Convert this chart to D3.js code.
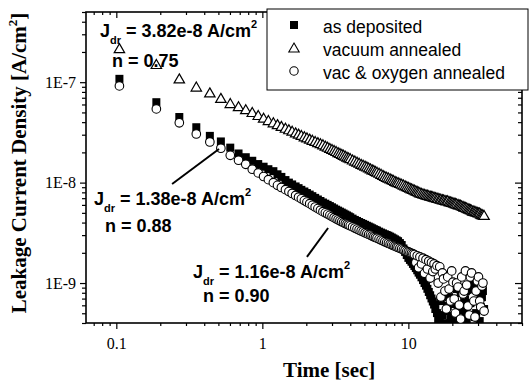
<!DOCTYPE html>
<meta charset="utf-8">
<script src="https://cdnjs.cloudflare.com/ajax/libs/d3/7.8.5/d3.min.js"></script>
<style>
  body { margin: 0; background: #fff; }
  .tick text { font-family: "Liberation Serif", "Times New Roman", serif; font-size: 16px; fill: #000; }
  .ann { font-family: "Liberation Sans", Arial, sans-serif; font-weight: bold; font-size: 18px; }
</style>
<svg width="529" height="385"></svg>

<script>
// sample times [sec], shared by the three series
var time = [0.105,0.188,0.27,0.353,0.437,0.52,0.603,0.687,0.77,0.853,0.937,1.02,1.1,1.19,1.27,1.35,1.44,1.52,1.6,1.69,1.77,1.85,1.94,2.02,
  2.2,2.4,2.6,2.8,3.0,3.2,3.4,3.6,3.8,4.0,4.3,4.6,4.9,5.2,5.5,5.8,6.1,6.5,6.9,7.3,7.7,8.1,8.5,9.0,9.5,
  10,10.5,11,11.5,12,12.6,13.2,13.8,14.4,15,15.7,16.4,17.1,17.8,18.6,19.4,20.2,21,21.9,22.8,23.7,24.6,25.6,26.6,27.6,28.6,29.7,30.8,31.9,33.0];

var asDeposited = [1.08e-7,6.32e-8,4.50e-8,3.56e-8,2.92e-8,2.57e-8,2.23e-8,1.95e-8,1.79e-8,1.65e-8,1.53e-8,1.44e-8,1.36e-8,1.30e-8,1.21e-8,1.14e-8,1.06e-8,1.00e-8,9.59e-9,9.16e-9,8.81e-9,8.47e-9,8.16e-9,7.87e-9,
  7.33e-9,6.79e-9,6.34e-9,6.00e-9,5.68e-9,5.38e-9,5.14e-9,4.92e-9,4.71e-9,4.52e-9,
  4.25e-9,4.05e-9,3.88e-9,3.72e-9,3.58e-9,3.44e-9,3.33e-9,
  3.18e-9,3.06e-9,2.96e-9,2.84e-9,2.72e-9,2.61e-9,2.39e-9,2.04e-9,
  1.78e-9,1.63e-9,1.48e-9,1.34e-9,1.21e-9,1.07e-9,9.42e-10,8.15e-10,7.02e-10,
  6.11e-10,5.02e-10,4.18e-10,4.80e-10,3.64e-10,5.90e-10,4.38e-10,6.77e-10,3.99e-10,5.38e-10,7.94e-10,3.32e-10,5.02e-10,9.12e-10,6.31e-10,1.07e-9,4.58e-10,8.51e-10,4.18e-10,7.24e-10,5.51e-10];

var vacuumAnnealed = [2.16e-7,1.50e-7,1.08e-7,8.95e-8,7.83e-8,6.90e-8,6.13e-8,5.70e-8,5.32e-8,4.99e-8,4.66e-8,4.38e-8,4.15e-8,3.94e-8,3.78e-8,3.63e-8,3.48e-8,3.36e-8,3.25e-8,3.13e-8,3.04e-8,2.95e-8,2.86e-8,2.79e-8,
  2.64e-8,2.50e-8,2.38e-8,2.25e-8,2.14e-8,2.04e-8,1.95e-8,1.87e-8,1.79e-8,1.73e-8,
  1.64e-8,1.56e-8,1.49e-8,1.43e-8,1.37e-8,1.32e-8,1.27e-8,
  1.21e-8,1.15e-8,1.11e-8,1.07e-8,1.03e-8,9.99e-9,9.63e-9,9.29e-9,
  8.97e-9,8.67e-9,8.41e-9,8.16e-9,7.92e-9,7.71e-9,7.55e-9,7.41e-9,7.28e-9,
  7.16e-9,7.02e-9,6.89e-9,6.76e-9,6.65e-9,6.60e-9,6.41e-9,6.30e-9,6.19e-9,6.05e-9,5.95e-9,5.78e-9,5.65e-9,5.51e-9,5.38e-9,5.20e-9,5.15e-9,5.04e-9,4.98e-9,4.81e-9,4.71e-9];

var vacOxygen = [9.18e-8,5.42e-8,3.94e-8,3.05e-8,2.54e-8,2.20e-8,1.87e-8,1.67e-8,1.52e-8,1.36e-8,1.25e-8,1.15e-8,1.07e-8,9.99e-9,9.39e-9,8.95e-9,8.51e-9,8.15e-9,7.80e-9,7.45e-9,7.16e-9,6.89e-9,6.62e-9,6.40e-9,
  5.94e-9,5.51e-9,5.14e-9,4.86e-9,4.59e-9,4.37e-9,4.17e-9,3.99e-9,3.85e-9,3.71e-9,
  3.53e-9,3.37e-9,3.24e-9,3.11e-9,3.00e-9,2.89e-9,2.80e-9,
  2.68e-9,2.58e-9,2.49e-9,2.40e-9,2.33e-9,2.26e-9,2.18e-9,2.11e-9,
  2.04e-9,1.98e-9,1.92e-9,1.87e-9,1.82e-9,1.77e-9,1.71e-9,1.65e-9,1.60e-9,
  1.55e-9,1.49e-9,1.45e-9,1.26e-9,8.32e-10,1.15e-9,6.61e-10,1.02e-9,5.02e-10,9.12e-10,4.38e-10,7.76e-10,1.32e-9,5.90e-10,1.15e-9,7.24e-10,4.58e-10,1.05e-9,6.61e-10,9.33e-10,5.26e-10];

// in-between samples where the markers pile up (2 s < t < 15 s)
var midTime = [2.11,2.3,2.5,2.7,2.9,3.1,3.3,3.5,3.7,3.9,4.15,4.45,4.75,5.05,5.35,5.65,5.95,
  6.3,6.7,7.1,7.5,7.9,8.3,8.75,9.25,9.75,10.25,10.75,11.25,11.75,12.3,12.9,13.5,14.1,14.7];
var midDeposited = [7.60e-9,7.05e-9,6.56e-9,6.17e-9,5.84e-9,5.53e-9,5.26e-9,5.03e-9,4.81e-9,4.61e-9,4.38e-9,4.15e-9,3.96e-9,3.80e-9,3.65e-9,3.51e-9,3.38e-9,
  3.25e-9,3.12e-9,3.01e-9,2.90e-9,2.78e-9,2.66e-9,2.50e-9,2.21e-9,1.90e-9,1.70e-9,1.55e-9,1.41e-9,1.27e-9,1.14e-9,1.00e-9,8.76e-10,7.56e-10,6.55e-10];
var midVacuum = [2.71e-8,2.57e-8,2.44e-8,2.31e-8,2.19e-8,2.09e-8,1.99e-8,1.91e-8,1.83e-8,1.76e-8,1.68e-8,1.60e-8,1.52e-8,1.46e-8,1.40e-8,1.34e-8,1.29e-8,
  1.24e-8,1.18e-8,1.13e-8,1.09e-8,1.05e-8,1.01e-8,9.81e-9,9.46e-9,9.13e-9,8.82e-9,8.54e-9,8.28e-9,8.04e-9,7.81e-9,7.63e-9,7.48e-9,7.34e-9,7.22e-9];
var midOxygen = [6.17e-9,5.72e-9,5.32e-9,5.00e-9,4.72e-9,4.48e-9,4.27e-9,4.08e-9,3.92e-9,3.78e-9,3.62e-9,3.45e-9,3.30e-9,3.17e-9,3.05e-9,2.94e-9,2.84e-9,
  2.74e-9,2.63e-9,2.53e-9,2.44e-9,2.36e-9,2.29e-9,2.22e-9,2.14e-9,2.07e-9,2.01e-9,1.95e-9,1.60e-9,1.42e-9,1.55e-9,1.25e-9,1.38e-9,1.12e-9,1.30e-9];

// extra points in the noisy tail (t > 15 s)
var tailTime = [15.3,16.0,16.7,17.4,18.2,19.0,19.8,20.6,21.4,22.3,23.2,24.1,25.1,26.1,27.1,28.1,29.1,30.2,31.3,32.4];
var tailDeposited = [5.51e-10,4.38e-10,6.61e-10,3.99e-10,5.26e-10,7.24e-10,4.69e-10,6.18e-10,8.71e-10,4.18e-10,5.77e-10,6.92e-10,4.38e-10,8.32e-10,6.61e-10,1.00e-9,5.02e-10,7.24e-10,5.77e-10,8.32e-10];
var tailVacuum = [7.09e-9,6.95e-9,6.83e-9,6.71e-9,6.58e-9,6.47e-9,6.36e-9,6.24e-9,6.12e-9,5.99e-9,5.85e-9,5.71e-9,5.58e-9,5.44e-9,5.31e-9,5.21e-9,5.10e-9,4.98e-9,4.86e-9,4.76e-9];
var tailOxygen = [1.38e-9,1.00e-9,7.24e-10,1.10e-9,5.51e-10,8.71e-10,1.32e-9,6.92e-10,1.00e-9,6.04e-10,1.15e-9,8.32e-10,9.55e-10,4.80e-10,1.26e-9,6.61e-10,8.32e-10,1.15e-9,5.77e-10,1.00e-9];

var xTicks = [0.1, 1, 10];
var xTickLabels = ["0.1", "1", "10"];
var yTicks = [1e-9, 1e-8, 1e-7];
var yTickLabels = ["1E-9", "1E-8", "1E-7"];
var legendNames = ["as deposited", "vacuum annealed", "vac & oxygen annealed"];

var svg = d3.select("svg");
var L = 86, R = 522, T = 12, B = 323;

var x = d3.scaleLog().domain([0.062, 60]).range([L, R]);
var y = d3.scaleLog().domain([4e-10, 5e-7]).range([B, T]);

function pts(ts, vs) { return ts.map(function(t, i) { return {t: t, v: vs[i]}; }); }
function byTime(a, b) { return a.t - b.t; }
var sq = pts(time, asDeposited).concat(pts(midTime, midDeposited), pts(tailTime, tailDeposited)).sort(byTime);
var tri = pts(time, vacuumAnnealed).concat(pts(midTime, midVacuum), pts(tailTime, tailVacuum)).sort(byTime);
var circ = pts(time, vacOxygen).concat(pts(midTime, midOxygen), pts(tailTime, tailOxygen)).sort(byTime);

svg.append("clipPath").attr("id", "clip")
  .append("rect").attr("x", L).attr("y", T).attr("width", R - L).attr("height", B - T);

// axes: left/bottom ticks outward, top/right inward
function styleAxis(g) {
  g.select(".domain").remove();
  g.selectAll("line").attr("stroke", "#000").attr("stroke-width", 1.2);
}
var xMinor = x.ticks().filter(function(d) { return xTicks.indexOf(d) < 0; });
var yMinor = y.ticks().filter(function(d) { return yTicks.indexOf(d) < 0; });

svg.append("g").attr("transform", "translate(0," + B + ")")
  .call(d3.axisBottom(x).tickValues(xMinor).tickSize(3).tickFormat("")).call(styleAxis);
svg.append("g").attr("transform", "translate(0," + B + ")")
  .call(d3.axisBottom(x).tickValues(xTicks).tickSize(6).tickPadding(9)
    .tickFormat(function(d, i) { return xTickLabels[i]; })).call(styleAxis);
svg.append("g").attr("transform", "translate(0," + T + ")")
  .call(d3.axisBottom(x).tickValues(xMinor).tickSize(3).tickFormat("")).call(styleAxis);
svg.append("g").attr("transform", "translate(0," + T + ")")
  .call(d3.axisBottom(x).tickValues(xTicks).tickSize(6).tickFormat("")).call(styleAxis);

svg.append("g").attr("transform", "translate(" + L + ",0)")
  .call(d3.axisLeft(y).tickValues(yMinor).tickSize(4).tickFormat("")).call(styleAxis);
svg.append("g").attr("transform", "translate(" + L + ",0)")
  .call(d3.axisLeft(y).tickValues(yTicks).tickSize(6).tickPadding(4)
    .tickFormat(function(d, i) { return yTickLabels[i]; })).call(styleAxis);
svg.append("g").attr("transform", "translate(" + R + ",0)")
  .call(d3.axisLeft(y).tickValues(yMinor).tickSize(4).tickFormat("")).call(styleAxis);
svg.append("g").attr("transform", "translate(" + R + ",0)")
  .call(d3.axisLeft(y).tickValues(yTicks).tickSize(7).tickFormat("")).call(styleAxis);

svg.append("rect").attr("x", L).attr("y", T).attr("width", R - L).attr("height", B - T)
  .attr("fill", "none").attr("stroke", "#000").attr("stroke-width", 1.6);

// markers
var triPath = "M0,-5L5.2,4L-5.2,4Z";
var plot = svg.append("g").attr("clip-path", "url(#clip)");

plot.append("g").selectAll("rect").data(sq).enter().append("rect")
  .attr("x", function(d) { return x(d.t) - 4; })
  .attr("y", function(d) { return y(d.v) - 4; })
  .attr("width", 8).attr("height", 8).attr("fill", "#000");

plot.append("g").selectAll("path").data(tri).enter().append("path")
  .attr("d", triPath)
  .attr("transform", function(d) { return "translate(" + x(d.t) + "," + y(d.v) + ")"; })
  .attr("fill", "#fff").attr("stroke", "#000").attr("stroke-width", 1.2);

plot.append("g").selectAll("circle").data(circ).enter().append("circle")
  .attr("cx", function(d) { return x(d.t); })
  .attr("cy", function(d) { return y(d.v); })
  .attr("r", 4.3).attr("fill", "#fff").attr("stroke", "#000").attr("stroke-width", 1.1);

// fit annotations
function fitLabel(xj, yj, xn, yn, jVal, nVal) {
  var t = svg.append("text").attr("class", "ann").attr("x", xj).attr("y", yj);
  t.append("tspan").text("J");
  t.append("tspan").attr("font-size", 11).attr("dy", 7).text("dr");
  t.append("tspan").attr("dy", -7).text(" = " + jVal + " A/cm");
  t.append("tspan").attr("font-size", 11).attr("dy", -9).text("2");
  svg.append("text").attr("class", "ann").attr("x", xn).attr("y", yn).text("n = " + nVal);
}
fitLabel(100, 37, 112, 67, "3.82e-8", "0.75");
fitLabel(94, 205, 105, 232, "1.38e-8", "0.88");
fitLabel(193, 278, 203, 302, "1.16e-8", "0.90");

// pointer lines (data coordinates)
var pointers = [[0.241, 9.7e-9, 0.505, 2.16e-8], [2.02, 1.82e-9, 2.82, 3.53e-9]];
svg.append("g").selectAll("line").data(pointers).enter().append("line")
  .attr("x1", function(d) { return x(d[0]); }).attr("y1", function(d) { return y(d[1]); })
  .attr("x2", function(d) { return x(d[2]); }).attr("y2", function(d) { return y(d[3]); })
  .attr("stroke", "#000").attr("stroke-width", 2);

// axis titles
svg.append("text").attr("x", 283).attr("y", 377)
  .attr("font-family", "'Liberation Serif', 'Times New Roman', serif").attr("font-weight", "bold")
  .attr("font-size", 21).text("Time [sec]");

var yl = svg.append("text").attr("transform", "translate(26,163) rotate(-90)")
  .attr("font-family", "'Liberation Serif', 'Times New Roman', serif").attr("font-weight", "bold")
  .attr("font-size", 21).attr("text-anchor", "middle");
yl.append("tspan").text("Leakage Current Density [A/cm");
yl.append("tspan").attr("font-size", 13).attr("dy", -9).text("2");
yl.append("tspan").attr("dy", 9).text("]");

// legend
var lg = svg.append("g");
lg.append("rect").attr("x", 267).attr("y", 9).attr("width", 261).attr("height", 81)
  .attr("fill", "#fff").attr("stroke", "#000").attr("stroke-width", 1);
var rowY = [25, 48, 71];
lg.append("rect").attr("x", 290).attr("y", rowY[0] - 4).attr("width", 8).attr("height", 8).attr("fill", "#000");
lg.append("path").attr("d", triPath).attr("transform", "translate(294," + rowY[1] + ")")
  .attr("fill", "#fff").attr("stroke", "#000").attr("stroke-width", 1.1);
lg.append("circle").attr("cx", 294).attr("cy", rowY[2]).attr("r", 4.2)
  .attr("fill", "#fff").attr("stroke", "#000").attr("stroke-width", 1.1);
lg.selectAll("text").data(legendNames).enter().append("text")
  .attr("x", 323).attr("y", function(d, i) { return rowY[i] + 8; })
  .attr("font-family", "'Liberation Sans', Arial, sans-serif").attr("font-size", 17.5)
  .text(function(d) { return d; });
</script>
